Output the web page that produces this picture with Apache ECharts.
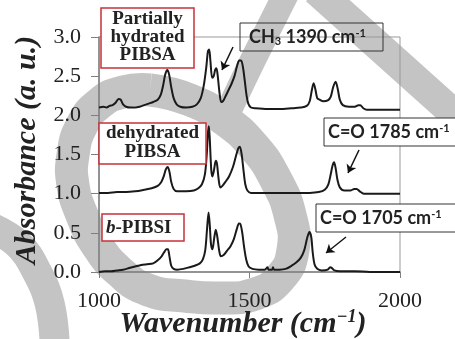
<!DOCTYPE html>
<html><head><meta charset="utf-8">
<script src="https://cdn.jsdelivr.net/npm/echarts@6/dist/echarts.min.js"></script>
<style>html,body{margin:0;padding:0;background:#fff}#c{width:455px;height:339px}</style>
</head><body><div id="c"></div>
<script>
// ---- data ----
const hydratedWn  = [1000,1015,1025,1035,1045,1055,1065,1072,1080,1090,1105,1120,1135,1150,1165,1180,1195,1205,1213,1220,1227,1233,1240,1248,1258,1270,1290,1310,1325,1338,1348,1356,1362,1366,1370,1376,1381,1386,1390,1394,1400,1406,1412,1420,1430,1440,1450,1458,1466,1472,1478,1484,1490,1496,1505,1520,1560,1600,1640,1670,1690,1700,1707,1713,1719,1725,1733,1745,1760,1770,1778,1786,1793,1800,1810,1830,1850,1862,1868,1878,1890,1950,2000];
const hydratedAbs = [2.10,2.11,2.10,2.12,2.13,2.16,2.21,2.20,2.14,2.11,2.10,2.10,2.11,2.13,2.15,2.17,2.20,2.26,2.38,2.52,2.58,2.52,2.36,2.22,2.14,2.11,2.10,2.11,2.14,2.22,2.38,2.60,2.82,2.84,2.70,2.48,2.50,2.58,2.60,2.52,2.30,2.17,2.18,2.24,2.32,2.40,2.50,2.62,2.70,2.70,2.62,2.45,2.26,2.15,2.10,2.09,2.08,2.08,2.09,2.10,2.12,2.18,2.32,2.41,2.33,2.22,2.20,2.18,2.19,2.24,2.36,2.43,2.34,2.20,2.13,2.11,2.11,2.13,2.13,2.09,2.07,2.07,2.07];

const dehydratedWn  = [1000,1030,1060,1090,1120,1150,1175,1195,1207,1215,1222,1228,1234,1240,1248,1260,1290,1315,1330,1342,1352,1358,1362,1365,1368,1373,1377,1382,1388,1392,1397,1403,1410,1420,1432,1445,1455,1463,1468,1474,1480,1486,1493,1505,1550,1600,1650,1700,1730,1750,1762,1770,1776,1781,1786,1792,1800,1815,1835,1848,1856,1866,1880,1950,2000];
const dehydratedAbs = [1.01,1.01,1.02,1.02,1.03,1.05,1.07,1.10,1.15,1.22,1.31,1.34,1.28,1.15,1.06,1.03,1.03,1.04,1.07,1.12,1.25,1.50,1.78,1.86,1.70,1.30,1.22,1.30,1.42,1.38,1.20,1.08,1.10,1.15,1.22,1.34,1.48,1.58,1.60,1.50,1.30,1.12,1.04,1.01,1.01,1.01,1.01,1.01,1.02,1.05,1.12,1.25,1.36,1.40,1.33,1.18,1.08,1.04,1.04,1.06,1.06,1.03,1.00,1.00,1.00];

const pibsiWn  = [1000,1020,1040,1060,1080,1100,1120,1140,1160,1180,1195,1208,1216,1224,1229,1234,1240,1248,1260,1280,1300,1318,1335,1345,1353,1359,1364,1368,1372,1377,1383,1388,1393,1399,1405,1415,1425,1437,1448,1458,1465,1470,1476,1482,1489,1497,1510,1530,1550,1560,1563,1575,1578,1582,1600,1620,1640,1655,1670,1682,1692,1699,1705,1710,1716,1725,1740,1760,1768,1774,1782,1800,1850,1900,2000];
const pibsiAbs = [0.00,0.01,0.01,0.02,0.03,0.05,0.07,0.09,0.10,0.11,0.15,0.20,0.25,0.29,0.29,0.20,0.08,0.04,0.03,0.04,0.06,0.08,0.11,0.16,0.28,0.55,0.76,0.60,0.36,0.29,0.44,0.54,0.45,0.28,0.20,0.22,0.27,0.33,0.42,0.55,0.62,0.61,0.50,0.32,0.16,0.07,0.04,0.03,0.03,0.06,0.03,0.03,0.06,0.03,0.03,0.04,0.08,0.12,0.18,0.28,0.44,0.51,0.45,0.25,0.10,0.04,0.02,0.03,0.06,0.05,0.02,0.01,0.01,0.00,0.00];

const xTickLabels = ['1000','1500','2000'];
const yTickLabels = ['0.0','0.5','1.0','1.5','2.0','2.5','3.0'];

const zip = (a,b) => a.map((v,i)=>[v,b[i]]);
const serif = '"Liberation Serif","Times New Roman",serif';
const sans = 'Lato,"Open Sans",sans-serif';

// decorative watermark strokes (background)
const wm = '#c4c4c4';
const ring = [[150,90],[190,100],[225,120],[255,148],[276,180],[290,215],[293,250],[280,278],[255,294],[220,298],[185,296],[148,290],[120,272],[97,245],[82,215],[73,185],[73,155],[82,125],[100,103],[123,92],[150,90]];

const chart = echarts.init(document.getElementById('c'), null, {renderer:'canvas'});
const lineSeries = (data) => ({type:'line', data, showSymbol:false, smooth:0.3, z:3,
  lineStyle:{color:'#1a1a1a', width:2}, silent:true});

chart.setOption({
  animation:false,
  backgroundColor:'#fff',
  grid:{left:99, right:55, top:37, bottom:67, show:true, borderColor:'#999', borderWidth:1, backgroundColor:'transparent'},
  xAxis:{type:'value', min:1000, max:2000, interval:500,
    axisLine:{lineStyle:{color:'#808080', width:1.5}},
    axisTick:{length:6, lineStyle:{color:'#808080'}},
    splitLine:{show:false},
    axisLabel:{margin:18, color:'#222', fontFamily:serif, fontSize:22,
      formatter:(v)=>xTickLabels[Math.round((v-1000)/500)]}},
  yAxis:{type:'value', min:0, max:3, interval:0.5,
    axisLine:{show:true, lineStyle:{color:'#808080', width:1.5}},
    axisTick:{show:true, length:8, lineStyle:{color:'#808080'}},
    splitLine:{show:false},
    axisLabel:{margin:18, color:'#222', fontFamily:serif, fontSize:22,
      formatter:(v)=>yTickLabels[Math.round(v/0.5)]}},
  graphic:[
    {type:'polyline', z:-10, silent:true, shape:{points:ring, smooth:0.5}, style:{stroke:wm, lineWidth:33, fill:null}},
    {type:'polyline', z:-10, silent:true, shape:{points:[[288,-10],[252,62],[230,108]], smooth:0.3}, style:{stroke:wm, lineWidth:26, fill:null}},
    {type:'polyline', z:-10, silent:true, shape:{points:[[316,-10],[470,128]]}, style:{stroke:wm, lineWidth:30, fill:null}},
    {type:'polyline', z:-10, silent:true, shape:{points:[[-12,226],[18,244],[37,272],[50,305],[55,350]], smooth:0.4}, style:{stroke:wm, lineWidth:30, fill:null}},
    // axis titles
    {type:'text', z:20, x:27, y:150, rotation:Math.PI/2, style:{text:'Absorbance (a. u.)', font:'italic bold 30px '+serif, fill:'#222', textAlign:'center', textVerticalAlign:'middle'}},
    {type:'text', z:20, x:243, y:324, style:{text:'Wavenumber (cm{s|−1})', font:'italic bold 30px '+serif, fill:'#222', textAlign:'center', textVerticalAlign:'middle',
      rich:{s:{font:'italic bold 18px '+serif, fill:'#222', verticalAlign:'top', padding:[0,0,14,0]}}}},
    // sample labels (red boxes)
    {type:'rect', z:20, shape:{x:101,y:8,width:93,height:60}, style:{fill:'#fff', stroke:'#c8323a', lineWidth:1.5}},
    {type:'text', z:21, x:147.5, y:37, style:{text:'Partially\nhydrated\nPIBSA', font:'bold 19px '+serif, fill:'#222', textAlign:'center', textVerticalAlign:'middle', lineHeight:18}},
    {type:'rect', z:20, shape:{x:99,y:123,width:107,height:41}, style:{fill:'#fff', stroke:'#c8323a', lineWidth:1.5}},
    {type:'text', z:21, x:152.5, y:143, style:{text:'dehydrated\nPIBSA', font:'bold 19px '+serif, fill:'#222', textAlign:'center', textVerticalAlign:'middle', lineHeight:19}},
    {type:'rect', z:20, shape:{x:102,y:214,width:82,height:27}, style:{fill:'#fff', stroke:'#c8323a', lineWidth:1.5}},
    {type:'text', z:21, x:106, y:228, style:{text:'{i|b}-PIBSI', font:'bold 19px '+serif, fill:'#222', textAlign:'left', textVerticalAlign:'middle',
      rich:{i:{font:'italic bold 19px '+serif, fill:'#222'}}}},
    // band annotations (black boxes)
    {type:'rect', z:20, shape:{x:240,y:23,width:143,height:28}, style:{fill:null, stroke:'#333', lineWidth:1}},
    {type:'text', z:21, x:249, y:37, style:{text:'CH{b|3} 1390 cm{t|-1}', font:'bold 18px '+sans, fill:'#222', textAlign:'left', textVerticalAlign:'middle',
      rich:{b:{font:'bold 11px '+sans, fill:'#222', padding:[8,0,0,0]}, t:{font:'bold 11px '+sans, fill:'#222', padding:[0,0,8,0]}}}},
    {type:'rect', z:20, shape:{x:324,y:118,width:140,height:28}, style:{fill:'#fff', stroke:'#333', lineWidth:1}},
    {type:'text', z:21, x:328, y:132, style:{text:'C=O 1785 cm{t|-1}', font:'bold 18px '+sans, fill:'#222', textAlign:'left', textVerticalAlign:'middle',
      rich:{t:{font:'bold 11px '+sans, fill:'#222', padding:[0,0,8,0]}}}},
    {type:'rect', z:20, shape:{x:316,y:204,width:150,height:28}, style:{fill:'#fff', stroke:'#333', lineWidth:1}},
    {type:'text', z:21, x:320, y:218, style:{text:'C=O 1705 cm{t|-1}', font:'bold 18px '+sans, fill:'#222', textAlign:'left', textVerticalAlign:'middle',
      rich:{t:{font:'bold 11px '+sans, fill:'#222', padding:[0,0,8,0]}}}}
  ],
  series:[
    Object.assign(lineSeries(zip(hydratedWn, hydratedAbs)), {
      markLine:{silent:true, symbol:['none','arrow'], symbolSize:8, label:{show:false},
        lineStyle:{color:'#111', width:1.5, type:'solid'},
        data:[
          [{x:233,y:47},{x:222,y:70}],
          [{x:359,y:150},{x:348,y:173}],
          [{x:346,y:237},{x:326,y:253}]
        ]}
    }),
    lineSeries(zip(dehydratedWn, dehydratedAbs)),
    lineSeries(zip(pibsiWn, pibsiAbs))
  ]
});
</script></body></html>
